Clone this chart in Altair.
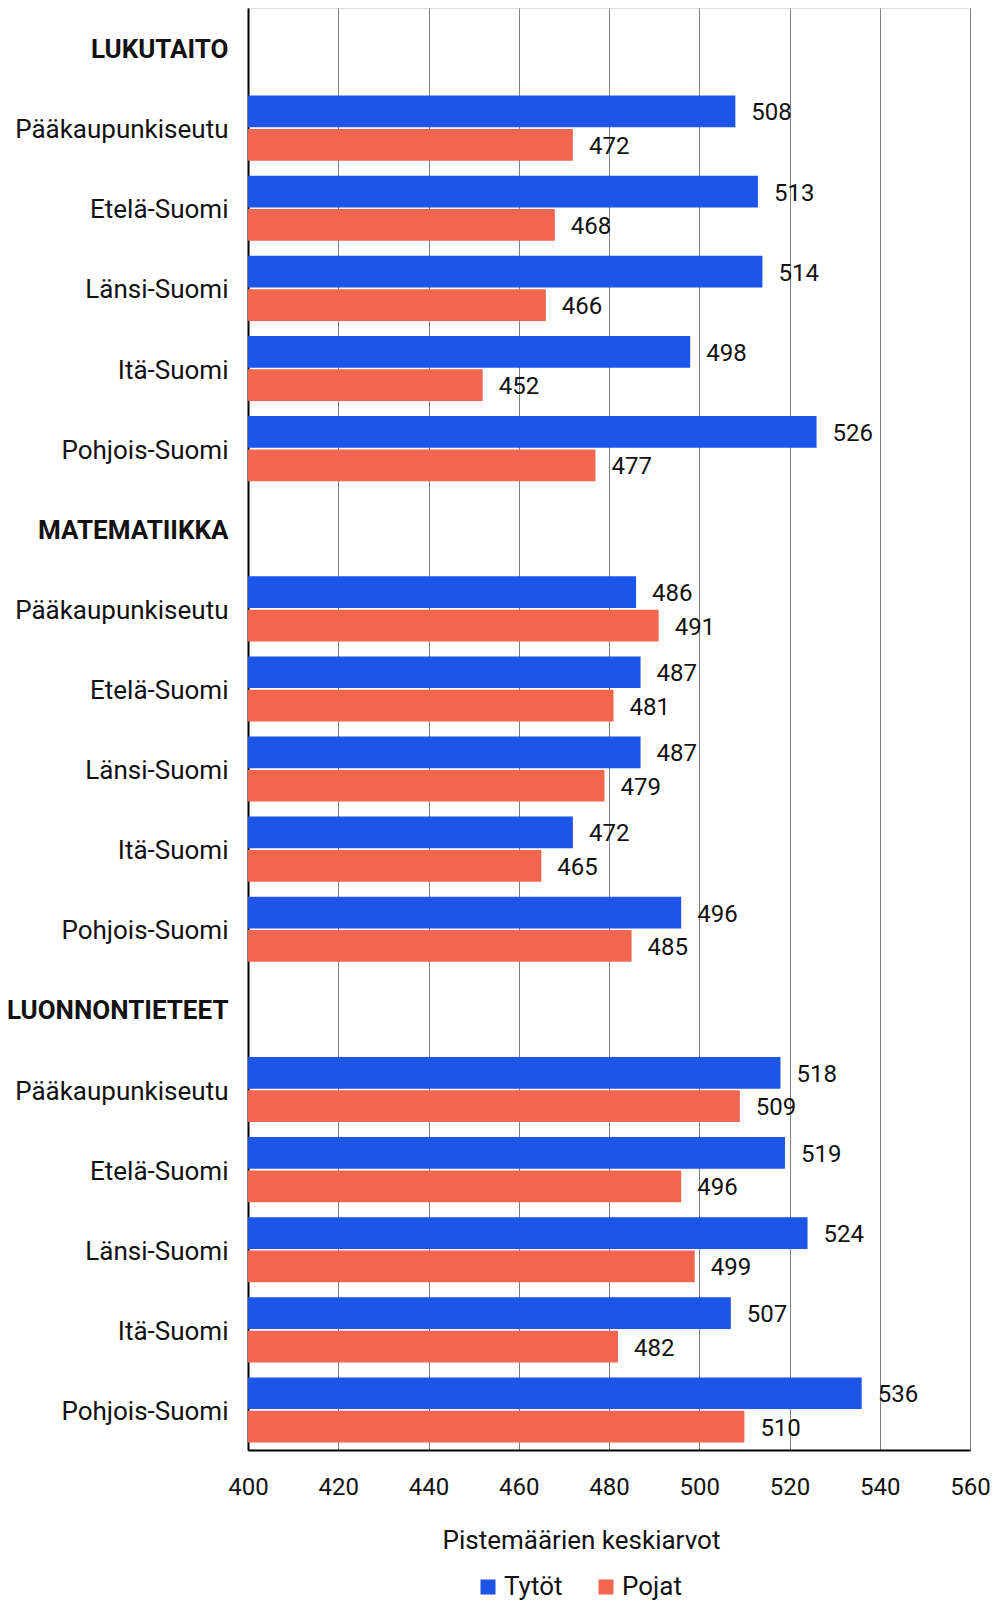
import altair as alt
import pandas as pd

subjects = ["LUKUTAITO", "MATEMATIIKKA", "LUONNONTIETEET"]
regions = ["Pääkaupunkiseutu", "Etelä-Suomi", "Länsi-Suomi", "Itä-Suomi", "Pohjois-Suomi"]
series = ["Tytöt", "Pojat"]

tytot = {
    "LUKUTAITO": [508, 513, 514, 498, 526],
    "MATEMATIIKKA": [486, 487, 487, 472, 496],
    "LUONNONTIETEET": [518, 519, 524, 507, 536],
}
pojat = {
    "LUKUTAITO": [472, 468, 466, 452, 477],
    "MATEMATIIKKA": [491, 481, 479, 465, 485],
    "LUONNONTIETEET": [509, 496, 499, 482, 510],
}

ticks = [400, 420, 440, 460, 480, 500, 520, 540, 560]
colors = ["#1C55E8", "#F2654E"]

FONT = "Roboto"
FS = 24
FSL = 26

keys = []
rows = []
for si, s in enumerate(subjects):
    keys.append(f"H{si}|{s}")
    for ri, r in enumerate(regions):
        k = f"R{si}{ri}|{r}"
        keys.append(k)
        rows.append({"key": k, "series": "Tytöt", "value": tytot[s][ri]})
        rows.append({"key": k, "series": "Pojat", "value": pojat[s][ri]})

df = pd.DataFrame(rows)

y_enc = alt.Y(
    "key:N",
    scale=alt.Scale(domain=keys, paddingInner=0.1875, paddingOuter=0.09375),
    axis=alt.Axis(
        title=None,
        labelExpr="split(datum.value, '|')[1]",
        labelFontWeight=alt.ExprRef(expr="indexof(datum.value, 'H') == 0 ? 'bold' : 'normal'"),
        labelFont=FONT,
        labelFontSize=FSL,
        labelColor="#111111",
        labelPadding=20,
        labelLimit=0,
        labelOffset=2,
        ticks=False,
        domainColor="#000000",
        domainWidth=2,
        grid=False,
    ),
)
yoff = alt.YOffset("series:N", scale=alt.Scale(domain=series, paddingInner=0.05))

x_scale = alt.Scale(domain=[400, 560], zero=False, nice=False)

bars = alt.Chart(df).mark_bar(clip=True).encode(
    y=y_enc,
    yOffset=yoff,
    x=alt.X(
        "value:Q",
        scale=x_scale,
        axis=alt.Axis(
            values=ticks,
            title="Pistemäärien keskiarvot",
            titleFont=FONT,
            titleFontSize=FSL,
            titleFontWeight="normal",
            titleColor="#111111",
            titlePadding=28,
            titleX=333,
            labelFont=FONT,
            labelFontSize=FS,
            labelColor="#111111",
            labelPadding=25,
            labelFlush=False,
            ticks=False,
            grid=True,
            gridColor="#808080",
            gridWidth=1,
            domainColor="#000000",
            domainWidth=2,
        ),
    ),
    x2=alt.datum(400),
    color=alt.Color(
        "series:N",
        scale=alt.Scale(domain=series, range=colors),
        legend=alt.Legend(
            title=None,
            orient="none",
            legendX=227,
            legendY=1566,
            direction="horizontal",
            symbolType="square",
            symbolSize=225,
            symbolStrokeWidth=0,
            labelFont=FONT,
            labelFontSize=FSL,
            labelColor="#111111",
            labelOffset=3,
            columnPadding=30,
        ),
    ),
)

labels = alt.Chart(df).mark_text(
    align="left", baseline="middle", dx=16, dy=2, font=FONT, fontSize=FS, color="#111111"
).encode(
    y=alt.Y("key:N", scale=alt.Scale(domain=keys)),
    yOffset=yoff,
    x=alt.X("value:Q", scale=x_scale),
    text=alt.Text("value:Q"),
)

chart = (
    alt.layer(bars, labels)
    .properties(
        width=722,
        height=1442,
        autosize=alt.AutoSizeParams(type="none"),
        padding={"left": 240, "top": 0, "right": 24, "bottom": 150},
    )
    .configure_view(stroke=None)
    .configure(background="white")
)

chart.save("out.html", embed_options={"renderer": "svg", "actions": False})
